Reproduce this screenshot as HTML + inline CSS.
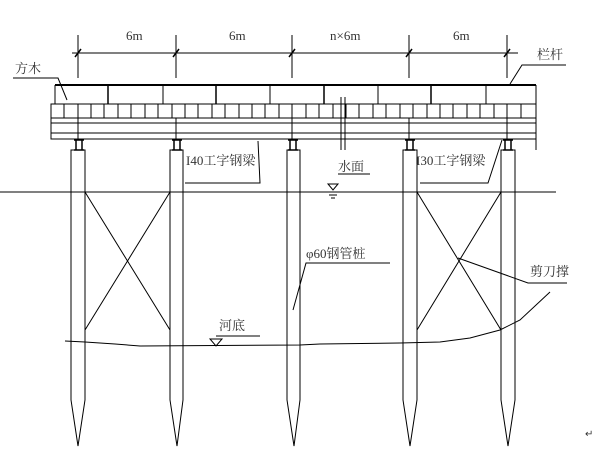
<!DOCTYPE html>
<html><head><meta charset="utf-8"><style>
html,body{margin:0;padding:0;background:#fff;}
svg{display:block;}
text{font-family:"Liberation Serif","Noto Serif CJK SC","Noto Sans CJK SC",serif;fill:#333;}
</style></head><body>
<svg width="600" height="450" viewBox="0 0 600 450" xmlns="http://www.w3.org/2000/svg">
<g stroke="#000" fill="none" stroke-width="1">
<!-- dimension line -->
<line x1="72" y1="53" x2="518" y2="53"/>
<line x1="78" y1="35" x2="78" y2="78"/><line x1="176" y1="35" x2="176" y2="78"/><line x1="292" y1="35" x2="292" y2="78"/><line x1="409" y1="35" x2="409" y2="78"/><line x1="507" y1="35" x2="507" y2="78"/>
<g stroke-width="1.5"><line x1="75" y1="57" x2="81" y2="49"/><line x1="173" y1="57" x2="179" y2="49"/><line x1="289" y1="57" x2="295" y2="49"/><line x1="406" y1="57" x2="412" y2="49"/><line x1="504" y1="57" x2="510" y2="49"/></g>
<!-- deck -->
<line x1="55" y1="85" x2="536" y2="85" stroke-width="2"/>
<line x1="55" y1="85" x2="55" y2="104"/>
<line x1="108" y1="85" x2="108" y2="104" stroke-width="1.5"/><line x1="163" y1="85" x2="163" y2="104"/><line x1="216" y1="85" x2="216" y2="104" stroke-width="1.5"/><line x1="270" y1="85" x2="270" y2="104"/><line x1="324" y1="85" x2="324" y2="104" stroke-width="1.5"/><line x1="378" y1="85" x2="378" y2="104"/><line x1="431" y1="85" x2="431" y2="104" stroke-width="1.5"/><line x1="486" y1="85" x2="486" y2="104"/>
<line x1="536" y1="85" x2="536" y2="150"/>
<rect x="51" y="104" width="485" height="35"/>
<line x1="51" y1="118" x2="536" y2="118"/>
<line x1="51" y1="123" x2="536" y2="123"/>
<line x1="51" y1="133" x2="536" y2="133"/>
<path d="M64 104V118M78 104V118M91 104V118M104 104V118M118 104V118M131 104V118M145 104V118M158 104V118M172 104V118M185 104V118M198 104V118M212 104V118M225 104V118M239 104V118M252 104V118M265 104V118M279 104V118M292 104V118M306 104V118M319 104V118M333 104V118M346 104V118M359 104V118M373 104V118M386 104V118M400 104V118M413 104V118M427 104V118M440 104V118M453 104V118M467 104V118M480 104V118M494 104V118M507 104V118M521 104V118"/>
<path d="M78 118V139M176 118V139M292 118V139M409 118V139M507 118V139"/>
<!-- break -->
<line x1="341" y1="97" x2="341" y2="150"/><line x1="345" y1="97" x2="345" y2="150"/>
<!-- caps -->
<g stroke-width="1.5">
<path d="M74 140h10M74 150h10M76 140v10M82 140v10"/>
<path d="M172 140h10M172 150h10M174 140v10M180 140v10"/>
<path d="M288 140h10M288 150h10M290 140v10M296 140v10"/>
<path d="M405 140h10M405 150h10M407 140v10M413 140v10"/>
<path d="M503 140h10M503 150h10M505 140v10M511 140v10"/>
</g>
<!-- piles -->
<path d="M71 150V400L78 446L85 400V150Z"/>
<path d="M170 150V400L177 446L183 400V150Z"/>
<path d="M287 150V400L294 446L300 400V150Z"/>
<path d="M403 150V400L410 446L417 400V150Z"/>
<path d="M501 150V400L508 446L515 400V150Z"/>
<!-- water -->
<line x1="0" y1="192" x2="556" y2="192"/>
<!-- braces -->
<path d="M85 192L170 330M170 192L85 330"/>
<path d="M417 192L501 330M501 192L417 330"/>
<!-- riverbed -->
<path d="M65 341L85 342L100 343L115 344L140 346L300 345L320 344L400 343L440 342L470 338L500 330L520 320L550 292"/>
<!-- water symbol -->
<path d="M328 184h10l-5 6z"/><path d="M329 195h8M331 198h4"/>
<!-- riverbed symbol -->
<path d="M210 339h12l-6 7z"/><line x1="216" y1="336" x2="260" y2="336"/>
<!-- leaders -->
<path d="M13 78H58L67 100" />
<path d="M258 141L260 183H185"/>
<path d="M338 174H370"/>
<path d="M502 140L488 183H420"/>
<path d="M293 310L306 263H390"/>
<path d="M458 258L528 283H567"/>
<path d="M510 84L522 65H566"/>
</g>
<g font-size="13">
<text x="126" y="40">6m</text>
<text x="229" y="40">6m</text>
<text x="330" y="40">n×6m</text>
<text x="453" y="40">6m</text>
<text x="15" y="73">方木</text>
<text x="537" y="59">栏杆</text>
<text x="186" y="165">I40工字钢梁</text>
<text x="416" y="165">I30工字钢梁</text>
<text x="338" y="171">水面</text>
<text x="306" y="258">φ60钢管桩</text>
<text x="530" y="276">剪刀撑</text>
<text x="219" y="330">河底</text>
</g>
<text x="585" y="437" font-size="10" fill="#888">↵</text>
</svg>
</body></html>
